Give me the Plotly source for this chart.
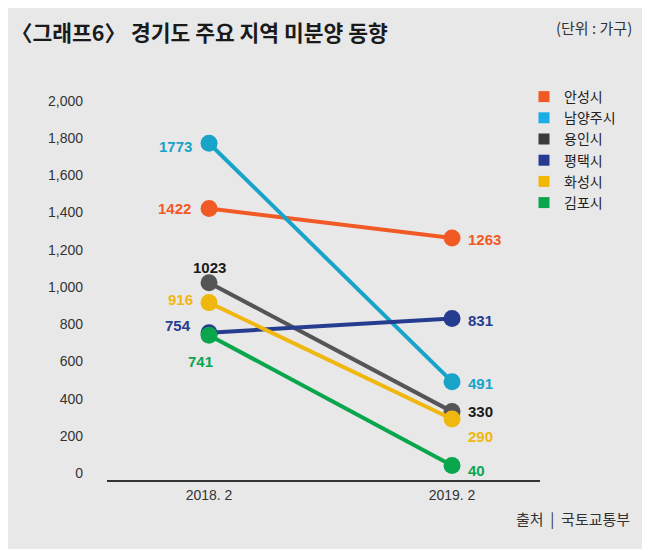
import plotly.graph_objects as go

periods = ["2018. 2", "2019. 2"]
regions = ["안성시", "남양주시", "용인시", "평택시", "화성시", "김포시"]
values_2018 = [1422, 1773, 1023, 754, 916, 741]
values_2019 = [1263, 491, 330, 831, 290, 40]
line_colors = ["#f15a24", "#18a3c8", "#555557", "#263d8f", "#f0b70f", "#0aa64e"]
legend_colors = ["#f15a24", "#1aaee6", "#3a3a3c", "#253a90", "#f2b705", "#0aa54f"]
label_colors = ["#f15a24", "#18a3c8", "#1a1a1a", "#263d8f", "#f0b70f", "#0aa64e"]
y_ticks = [0, 200, 400, 600, 800, 1000, 1200, 1400, 1600, 1800, 2000]

# label placement (xanchor, xshift, yshift) for each region at each period
label_pos_2018 = [("right", -16, 0), ("right", -15, -3), ("center", 0, 15),
                  ("right", -16, 7), ("right", -14, 3), ("center", -9, -26)]
label_pos_2019 = [("left", 14, -1), ("left", 14, -2), ("left", 14, 0),
                  ("left", 14, -2), ("left", 14, -17), ("left", 14, -5)]

BG = "#e8e8e9"
NUM_FONT = "Liberation Sans, Arial, sans-serif"
KR_FONT = "Noto Sans CJK KR, Noto Sans, sans-serif"

xs = list(range(len(periods)))
fig = go.Figure()

for i, r in enumerate(regions):
    fig.add_trace(go.Scatter(
        x=xs, y=[values_2018[i], values_2019[i]], mode="lines+markers",
        line=dict(color=line_colors[i], width=4),
        marker=dict(color=line_colors[i], size=17),
        showlegend=False, hoverinfo="skip"))

for i, r in enumerate(regions):
    fig.add_trace(go.Scatter(
        x=[None], y=[None], mode="markers", name=r,
        marker=dict(color=legend_colors[i], size=11, symbol="square")))

annotations = []
for i in range(len(regions)):
    for xi, vals, pos in ((0, values_2018, label_pos_2018), (1, values_2019, label_pos_2019)):
        anc, dx, dy = pos[i]
        annotations.append(dict(
            x=xi, y=vals[i], xref="x", yref="y", text=f"<b>{vals[i]}</b>",
            showarrow=False, xanchor=anc, yanchor="middle", xshift=dx, yshift=dy,
            font=dict(family=NUM_FONT, size=15, color=label_colors[i])))

W, H = 650, 549
L, R, T, B = 99, 118, 82, 77
pw, ph = W - L - R, H - T - B

def px(xp):
    return (xp - L) / pw

def py(yp):
    return (H - B - yp) / ph

annotations.append(dict(x=px(1), y=py(23), xref="paper", yref="paper",
                        text="<b>〈그래프6〉 경기도 주요 지역 미분양 동향</b>",
                        showarrow=False, xanchor="left", yanchor="middle",
                        font=dict(family=KR_FONT, size=21.5, color="#1a1a1a")))
annotations.append(dict(x=px(626), y=py(20), xref="paper", yref="paper",
                        text="(단위 : 가구)", showarrow=False, xanchor="right", yanchor="middle",
                        font=dict(family=KR_FONT, size=15, color="#333333")))
annotations.append(dict(x=px(624), y=py(510), xref="paper", yref="paper",
                        text="출처\u00a0 |\u00a0 국토교통부", showarrow=False, xanchor="right", yanchor="middle",
                        font=dict(family=KR_FONT, size=15, color="#333333")))

fig.update_layout(
    width=W, height=H,
    margin=dict(l=L, r=R, t=T, b=B, autoexpand=False),
    paper_bgcolor=BG, plot_bgcolor=BG,
    legend=dict(xref="container", yref="container", x=516 / W, y=1 - 73 / H,
                xanchor="left", yanchor="top", bgcolor="rgba(0,0,0,0)",
                font=dict(family=KR_FONT, size=14, color="#222222")),
    annotations=annotations,
    showlegend=True,
)

fig.update_xaxes(range=[-0.42, 1.362], tickvals=xs, ticktext=periods,
                 showgrid=False, zeroline=False, showline=True,
                 linecolor="#333333", linewidth=1.5, ticks="",
                 tickfont=dict(family=NUM_FONT, size=14, color="#333333"),
                 ticklabelstandoff=1, fixedrange=True)
fig.update_yaxes(range=[-37.6, 2059], tickvals=y_ticks, tickformat=",",
                 showgrid=False, zeroline=False, showline=False, ticks="",
                 tickfont=dict(family=NUM_FONT, size=14, color="#333333"),
                 ticklabelstandoff=23, fixedrange=True)

fig.write_html("out.html")
